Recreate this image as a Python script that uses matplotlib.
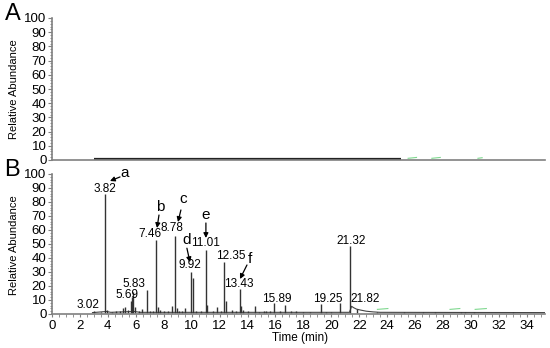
import numpy as np
import matplotlib.pyplot as plt
from matplotlib.ticker import MultipleLocator

plt.rcParams['font.family'] = ['Liberation Sans', 'DejaVu Sans']

# --- dane odczytane z chromatogramu ---
# panel B: piki (czas [min], wysokość [%])
peak_t = [3.02, 3.5, 3.82, 3.95, 4.3, 4.6, 4.85, 5.05, 5.2, 5.45, 5.69, 5.75, 5.83, 5.95,
          6.2, 6.45, 6.8, 7.0, 7.2, 7.46, 7.6, 7.75, 8.0, 8.3, 8.6, 8.78, 8.95, 9.1, 9.3,
          9.55, 9.92, 10.08, 10.3, 10.7, 11.01, 11.12, 11.5, 11.8, 12.1, 12.35, 12.45,
          12.9, 13.2, 13.43, 13.55, 13.7, 14.0, 14.55, 14.8, 15.15, 15.3, 15.6, 15.89,
          16.3, 16.7, 17.1, 17.5, 18.0, 18.5, 19.25, 19.6, 20.0, 20.6, 21.32, 21.82,
          23.3, 25.2, 26.6, 27.4, 29.3, 29.6, 30.2, 32.2, 33.0]
peak_h = [2.5, 1.5, 86, 3, 1.5, 2, 2.5, 4.5, 5, 3, 9, 12, 16, 5,
          2, 3.5, 17, 2, 2.5, 53, 5, 3, 2, 2, 5.5, 56, 4, 2, 2.5,
          4, 30, 26, 2, 2.5, 46, 6.5, 2, 5, 2, 37, 9.5,
          3, 2, 18, 6, 3, 2, 5.5, 1.5, 2.5, 2, 2, 8,
          2.5, 6.5, 2, 2, 1.5, 1.5, 7.5, 1.5, 1.5, 8, 48.6, 3.5,
          1.2, 1.3, 1.2, 1.3, 1.3, 1.2, 1.2, 1.0, 1.2]

# linia bazowa panelu B (z ogonem po piku 21.32)
base_t = [2.9, 3.9, 4.2, 5.9, 6.3, 21.3, 21.45, 21.6, 21.8, 22.1, 22.5, 23.0, 23.5, 35.3]
base_y = [1.0, 1.8, 1.2, 1.8, 1.2, 1.2, 5.5, 4.5, 3.5, 2.8, 2.0, 1.5, 1.2, 1.0]

# panel A: płaski sygnał
a_t = [3.0, 25.0]
a_y = [0.7, 0.7]

# etykiety pików (tekst, x, y)
lab_txt = ['3.02', '3.82', '5.69', '5.83', '7.46', '8.78', '9.92', '11.01', '12.35',
           '13.43', '15.89', '19.25', '21.32', '21.82']
lab_x = [2.58, 3.79, 5.37, 5.87, 7.02, 8.59, 9.88, 11.02, 12.81, 13.39, 16.1, 19.76, 21.4, 22.4]
lab_y = [6.4, 89.3, 13.6, 21.4, 57.0, 61.4, 35.0, 50.7, 41.4, 21.4, 10.7, 10.7, 52.0, 10.7]

# oznaczenia związków a-f ze strzałkami
let_txt = ['a', 'b', 'c', 'd', 'e', 'f']
let_x = [5.23, 7.73, 9.38, 9.66, 11.02, 14.17]
let_y = [100.7, 76.4, 82.0, 52.9, 70.7, 39.3]
arr_x0 = [4.87, 7.66, 9.23, 9.66, 11.02, 13.96]
arr_y0 = [97.9, 70.7, 74.3, 47.0, 65.0, 35.0]
arr_x1 = [4.15, 7.52, 9.02, 9.88, 11.02, 13.46]
arr_y1 = [95.0, 61.4, 65.7, 37.0, 54.3, 25.0]

# zielone drobne znaczniki
green_b = [(23.3, 24.05, 3.3, 3.9), (28.5, 29.2, 3.3, 3.9), (30.3, 31.1, 3.3, 3.9)]
green_a = [(25.5, 26.1, 1.2, 1.8), (27.2, 27.8, 1.2, 1.8), (30.5, 30.8, 1.2, 1.6)]

fig = plt.figure(figsize=(5.5, 3.48), dpi=100)
L, W = 52 / 550, (545 - 52) / 550
axA = fig.add_axes([L, 1 - 160 / 348, W, 142 / 348])
axB = fig.add_axes([L, 1 - 314 / 348, W, 140 / 348])

spine_c = '#808080'
for ax in (axA, axB):
    ax.set_xlim(0, 35.3)
    ax.set_ylim(0, 100)
    for s in ('top', 'right'):
        ax.spines[s].set_visible(False)
    for s in ('left', 'bottom'):
        ax.spines[s].set_color(spine_c)
        ax.spines[s].set_linewidth(1.2)
    ax.yaxis.set_major_locator(MultipleLocator(10))
    ax.yaxis.set_minor_locator(MultipleLocator(2))
    ax.tick_params(axis='y', which='major', length=3, color=spine_c, labelsize=9.5, pad=1)
    ax.tick_params(axis='y', which='minor', length=1.5, color=spine_c)

# panel A
axA.plot(a_t, a_y, color='#222222', lw=1.6, solid_capstyle='butt')
for g in green_a:
    axA.plot(g[:2], g[2:], color='#7fd88f', lw=0.8)
axA.set_xticks([])

# panel B
axB.plot(base_t, base_y, color='#444444', lw=0.8)
axB.vlines(peak_t, 1.0, peak_h, color='#333333', lw=1.0)
for g in green_b:
    axB.plot(g[:2], g[2:], color='#7fd88f', lw=0.8)
axB.xaxis.set_major_locator(MultipleLocator(2))
axB.xaxis.set_minor_locator(MultipleLocator(0.5))
axB.tick_params(axis='x', which='major', length=2.5, color=spine_c, labelsize=9.5, pad=1.5)
axB.tick_params(axis='x', which='minor', length=2, color=spine_c)

for t, x, y in zip(lab_txt, lab_x, lab_y):
    axB.text(x, y, t, ha='center', va='center', fontsize=8.5, clip_on=False)

for t, x, y, x0, y0, x1, y1 in zip(let_txt, let_x, let_y, arr_x0, arr_y0, arr_x1, arr_y1):
    axB.text(x, y, t, ha='center', va='center', fontsize=11, clip_on=False)
    axB.annotate('', xy=(x1, y1), xytext=(x0, y0), annotation_clip=False,
                 arrowprops=dict(arrowstyle='-|>', color='black', lw=0.9,
                                 mutation_scale=7, shrinkA=0, shrinkB=0))

fig.text(300 / 550, 1 - 338 / 348, 'Time (min)', ha='center', va='center', fontsize=8.5)
fig.text(14 / 550, 1 - 89 / 348, 'Relative Abundance', rotation=90,
         ha='center', va='center', fontsize=8)
fig.text(14 / 550, 1 - 245 / 348, 'Relative Abundance', rotation=90,
         ha='center', va='center', fontsize=8)
fig.text(13 / 550, 1 - 14 / 348, 'A', ha='center', va='center', fontsize=17)
fig.text(12 / 550, 1 - 170 / 348, 'B', ha='center', va='center', fontsize=17)

fig.savefig('out.png', dpi=100)
